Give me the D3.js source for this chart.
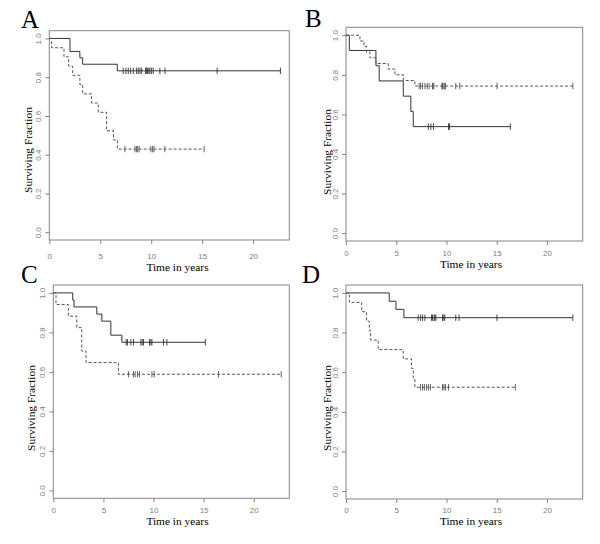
<!DOCTYPE html>
<html><head><meta charset="utf-8">
<script src="https://cdn.jsdelivr.net/npm/d3@7"></script>
<style>body{margin:0;background:#fff}svg{display:block}</style>
</head><body>
<svg id="chart" width="600" height="544"></svg>
<script>
// ---------- data ----------
const xTicks = [0, 5, 10, 15, 20];
const yTicks = [0, 0.2, 0.4, 0.6, 0.8, 1.0];
const yTickLabels = ["0.0", "0.2", "0.4", "0.6", "0.8", "1.0"];
const panelLetters = ["A", "B", "C", "D"];
const xTitle = "Time in years";
const yTitle = "Surviving Fraction";

// Panel A
const aSolidTimes = [2.03, 3.0, 3.27, 6.67];
const aSolidSurv = [0.933, 0.9, 0.867, 0.833];
const aSolidCensor = [7.25, 7.52, 7.75, 7.98, 8.24, 8.57, 8.73, 8.9, 9.06, 9.45, 9.55, 9.65, 9.77, 9.87, 10.04, 10.2, 10.85, 11.35, 16.47, 22.68];
const aDashTimes = [0.23, 1.44, 1.9, 2.29, 3.0, 3.27, 4.15, 4.8, 5.62, 6.3, 6.68];
const aDashSurv = [0.952, 0.905, 0.857, 0.810, 0.762, 0.714, 0.667, 0.619, 0.524, 0.476, 0.429];
const aDashCensor = [7.42, 8.4, 8.57, 8.67, 8.82, 9.97, 10.14, 10.27, 11.34, 15.2];

// Panel B
const bSolidTimes = [0.33, 2.98, 3.3, 5.7, 6.45, 6.69];
const bSolidSurv = [0.923, 0.846, 0.769, 0.692, 0.615, 0.538];
const bSolidCensor = [8.2, 8.45, 8.7, 10.2, 10.3, 16.35];
const bDashTimes = [1.39, 1.79, 2.05, 2.38, 2.98, 4.2, 4.87, 5.7, 6.85];
const bDashSurv = [0.971, 0.943, 0.914, 0.886, 0.857, 0.829, 0.8, 0.771, 0.743];
const bDashCensor = [7.28, 7.42, 7.62, 7.85, 8.08, 8.27, 8.61, 8.67, 8.74, 9.53, 9.6, 9.73, 9.83, 9.9, 10.92, 11.32, 15.03, 22.57];

// Panel C
const cSolidTimes = [1.94, 2.07, 4.34, 4.84, 5.74, 6.84];
const cSolidSurv = [0.964, 0.929, 0.893, 0.857, 0.786, 0.75];
const cSolidCensor = [7.27, 7.4, 7.74, 8.0, 8.74, 8.87, 9.0, 9.6, 9.74, 9.84, 11.0, 11.34, 15.17];
const cDashTimes = [0.27, 1.5, 2.34, 2.84, 3.27, 6.5];
const cDashSurv = [0.941, 0.882, 0.824, 0.706, 0.647, 0.588];
const cDashCensor = [7.5, 8.0, 8.17, 8.4, 8.6, 9.84, 10.07, 16.5, 22.74];

// Panel D
const dSolidTimes = [4.3, 4.97, 5.76];
const dSolidSurv = [0.958, 0.917, 0.875];
const dSolidCensor = [7.18, 7.42, 7.62, 7.85, 8.51, 8.61, 8.77, 8.84, 8.94, 9.6, 9.73, 9.83, 10.92, 11.25, 15.02, 22.57];
const dDashTimes = [0.33, 1.56, 2.05, 2.32, 2.45, 3.2, 5.69, 6.52, 6.7, 6.85];
const dDashSurv = [0.952, 0.905, 0.857, 0.81, 0.762, 0.714, 0.667, 0.619, 0.571, 0.524];
const dDashCensor = [7.42, 7.62, 7.8, 8.0, 8.2, 8.4, 9.6, 9.75, 9.9, 10.2, 16.85];

// ---------- layout ----------
const panels = [
  {letter: panelLetters[0], box: [49.3, 30.7, 289.3, 240], letterPos: [21, 28], xLabGap: 13.5,
   yTitlePos: [32, 150], xTitlePos: [177.5, 270.5],
   solid: [aSolidTimes, aSolidSurv, aSolidCensor], dash: [aDashTimes, aDashSurv, aDashCensor]},
  {letter: panelLetters[1], box: [346, 27.3, 582.7, 241], letterPos: [305, 27], xLabGap: 9.2,
   yTitlePos: [330.5, 152], xTitlePos: [471, 267.5],
   solid: [bSolidTimes, bSolidSurv, bSolidCensor], dash: [bDashTimes, bDashSurv, bDashCensor]},
  {letter: panelLetters[2], box: [53.3, 285, 289.3, 498.3], letterPos: [21, 283], xLabGap: 9.2,
   yTitlePos: [34.5, 408], xTitlePos: [177.5, 525],
   solid: [cSolidTimes, cSolidSurv, cSolidCensor], dash: [cDashTimes, cDashSurv, cDashCensor]},
  {letter: panelLetters[3], box: [346, 285, 582.7, 499], letterPos: [302, 283], xLabGap: 8.6,
   yTitlePos: [330.5, 408], xTitlePos: [471, 525],
   solid: [dSolidTimes, dSolidSurv, dSolidCensor], dash: [dDashTimes, dDashSurv, dDashCensor]}
];

const svg = d3.select("#chart");
const frameColor = "#858585";
const tickLabColor = "#808080";
const serif = "Liberation Serif, Times New Roman, serif";
const sans = "Liberation Sans, Arial, sans-serif";

function survAt(times, surv, t) {
  let s = 1;
  for (let i = 0; i < times.length; i++) if (times[i] <= t) s = surv[i];
  return s;
}

panels.forEach(p => {
  const [x0, y0, x1, y1] = p.box;
  const x = d3.scaleLinear().domain([0, 23.55]).range([x0, x1]);
  const y = d3.scaleLinear().domain([-0.04, 1.04]).range([y1, y0]);
  const g = svg.append("g");

  // frame
  g.append("rect").attr("x", x0).attr("y", y0).attr("width", x1 - x0).attr("height", y1 - y0)
    .attr("fill", "none").attr("stroke", frameColor).attr("stroke-width", 1);

  // x axis
  const xa = g.append("g").attr("transform", `translate(0,${y1})`)
    .call(d3.axisBottom(x).tickValues(xTicks).tickSize(4).tickPadding(p.xLabGap - 4).tickFormat(d3.format("d")));
  xa.select(".domain").remove();
  xa.selectAll("line").attr("stroke", frameColor);
  xa.selectAll("text").attr("fill", tickLabColor).style("font-family", sans).style("font-size", "8px");

  // y axis
  const ya = g.append("g").attr("transform", `translate(${x0},0)`)
    .call(d3.axisLeft(y).tickValues(yTicks).tickSize(4).tickFormat((d, i) => yTickLabels[i]));
  ya.select(".domain").remove();
  ya.selectAll("line").attr("stroke", frameColor);
  ya.selectAll("text").attr("x", 0).attr("dy", 0).attr("text-anchor", "middle")
    .attr("transform", "translate(-8,0) rotate(-90)")
    .attr("fill", tickLabColor).style("font-family", sans).style("font-size", "8px");

  // curves
  const line = d3.line().x(d => x(d[0])).y(d => y(d[1])).curve(d3.curveStepAfter);
  [[p.solid, "#333333", null], [p.dash, "#555555", "3,2"]].forEach(([ser, col, dash]) => {
    const [times, surv, cens] = ser;
    const tEnd = Math.max(d3.max(cens), d3.max(times));
    const pts = [[0, 1]];
    times.forEach((t, i) => pts.push([t, surv[i]]));
    pts.push([tEnd, surv[surv.length - 1]]);
    g.append("path").datum(pts).attr("d", line).attr("fill", "none")
      .attr("stroke", col).attr("stroke-width", 1).attr("stroke-dasharray", dash);
    g.selectAll(null).data(cens).enter().append("line")
      .attr("x1", d => x(d)).attr("x2", d => x(d))
      .attr("y1", d => y(survAt(times, surv, d)) - 3.2)
      .attr("y2", d => y(survAt(times, surv, d)) + 3.2)
      .attr("stroke", col).attr("stroke-width", 0.9);
  });

  // titles
  g.append("text").attr("x", p.xTitlePos[0]).attr("y", p.xTitlePos[1]).attr("text-anchor", "middle")
    .style("font-family", serif).style("font-size", "11.4px").text(xTitle);
  g.append("text").attr("transform", `translate(${p.yTitlePos[0]},${p.yTitlePos[1]}) rotate(-90)`)
    .attr("text-anchor", "middle")
    .style("font-family", serif).style("font-size", "11.4px").text(yTitle);
  g.append("text").attr("x", p.letterPos[0]).attr("y", p.letterPos[1])
    .style("font-family", serif).style("font-size", "25px").text(p.letter);
});
</script>
</body></html>
